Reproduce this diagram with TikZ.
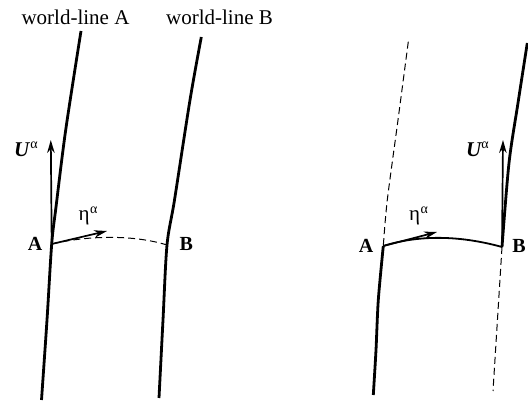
\documentclass[tikz,border=0pt]{standalone}
\usepackage{fontspec}
\setmainfont{Liberation Serif}
\usetikzlibrary{arrows.meta}
\tikzset{
  wline/.style={line width=2.8pt},
  dline/.style={line width=1pt, dash pattern=on 7pt off 4pt},
  pathline/.style={line width=1.8pt},
  vec/.style={line width=1.7pt, -{Stealth[length=13pt,width=7.5pt]}},
  ptlabel/.style={font=\fontsize{20}{20}\selectfont\bfseries, inner sep=0pt, anchor=base},
  title/.style={font=\fontsize{21}{21}\selectfont, inner sep=0pt, anchor=base},
  sym/.style={font=\fontsize{21}{21}\selectfont, inner sep=0pt, anchor=base west},
}
\newcommand{\supal}[1]{\raisebox{#1}{\fontsize{14}{14}\selectfont\mdseries\upshape α}}
\begin{document}
\begin{tikzpicture}[x=1pt,y=-1pt]
\useasboundingbox (0,0) rectangle (528,403);
% ---------- left panel ----------
\coordinate (A1) at (51.7,244);
\coordinate (B1) at (167,245);
\coordinate (UA1) at (50.8,140);
\coordinate (EA1) at (107,231);
\draw[wline] plot[smooth] coordinates {(81,31) (65.7,130) (56,207) (A1) (47,320) (41.5,400)};
\draw[wline] plot[smooth] coordinates {(201.3,37) (190,100) (174.5,200) (B1) (163,320) (159,398)};
\draw[dline] (A1) .. controls (90,235) and (135,235) .. (B1);
\draw[vec] (A1) -- (UA1);
\draw[vec] (A1) -- (EA1);
\node[title] (tA) at (75.5,24.3) {world-line A};
\node[title] (tB) at (219.5,24.3) {world-line B};
\node[ptlabel] (lA1) at (35,251) {A};
\node[ptlabel] (lB1) at (186.3,251) {B};
\node[sym] (u1) at (14,157) {\bfseries\itshape U\kern1pt\supal{8.5pt}};
\node[sym] (e1) at (78.5,220.5) {η\kern0.5pt\supal{6.5pt}};
% ---------- right panel ----------
\coordinate (A2) at (383.3,246);
\coordinate (B2) at (502,247);
\coordinate (UB2) at (503,140);
\coordinate (EA2) at (437,232);
\draw[dline] plot[smooth] coordinates {(408.3,41.7) (398,120) (387.3,200) (A2)};
\draw[wline] plot[smooth] coordinates {(A2) (378.3,300) (376,350) (373.3,395)};
\draw[wline] plot[smooth] coordinates {(527.3,43) (518,103) (509,163) (B2)};
\draw[dline] (B2) -- (493,391);
\draw[pathline] (A2) .. controls (415,236) and (455,234) .. (B2);
\draw[vec] (B2) -- (UB2);
\draw[vec] (A2) -- (EA2);
\node[ptlabel] (lA2) at (366,253) {A};
\node[ptlabel] (lB2) at (519,253) {B};
\node[sym] (u2) at (466,157) {\bfseries\itshape U\supal{8.5pt}};
\node[sym] (e2) at (409,220.5) {η\kern0.5pt\supal{6.5pt}};
\end{tikzpicture}
\end{document}
